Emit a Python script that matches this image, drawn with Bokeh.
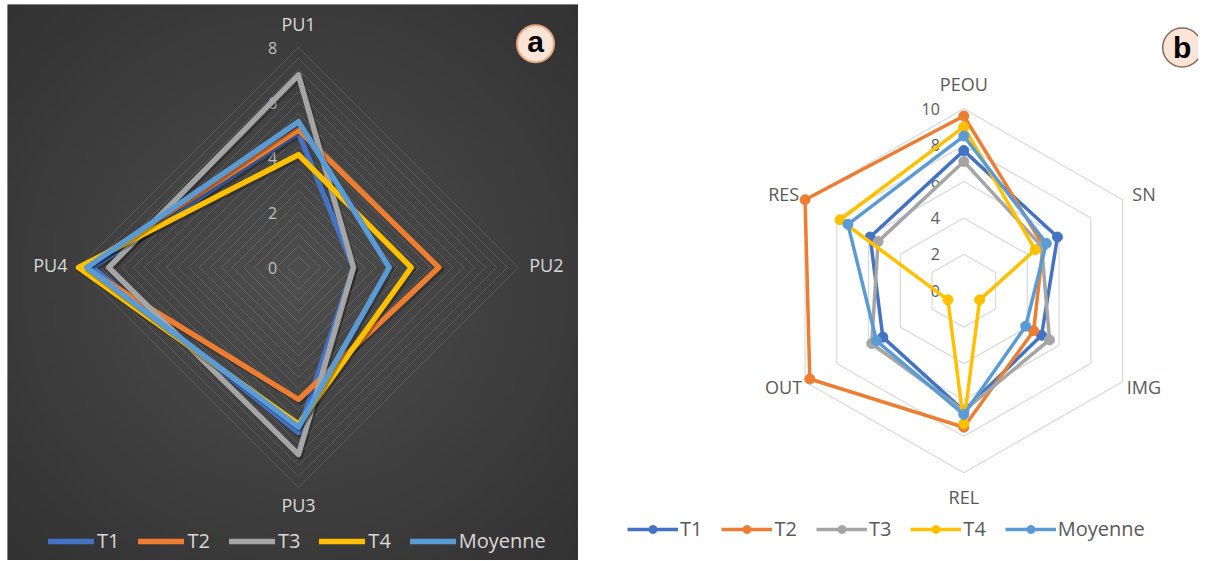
import numpy as np
from bokeh.plotting import figure
from bokeh.layouts import row
from bokeh.models import Legend, LegendItem, Range1d
from bokeh.core.properties import value
from bokeh.embed import file_html
from bokeh.resources import INLINE

# ---------------- data ----------------
series_names = ["T1", "T2", "T3", "T4", "Moyenne"]
colors = ["#4472C4", "#ED7D31", "#A5A5A5", "#FFC000", "#5B9BD5"]

a_axes = ["PU1", "PU2", "PU3", "PU4"]
a_T1 = [4.9, 2.0, 6.0, 7.5]
a_T2 = [5.0, 5.1, 4.8, 7.8]
a_T3 = [7.0, 2.0, 6.8, 6.9]
a_T4 = [4.1, 4.1, 5.7, 8.0]
a_Moy = [5.3, 3.3, 5.8, 7.7]
a_ticks = [0, 2, 4, 6, 8]

b_axes = ["PEOU", "SN", "IMG", "REL", "OUT", "RES"]
b_T1 = [7.7, 5.9, 4.9, 6.6, 5.1, 5.9]
b_T2 = [9.6, 5.0, 4.4, 7.5, 9.7, 10.0]
b_T3 = [7.1, 4.9, 5.4, 6.6, 5.8, 5.4]
b_T4 = [9.0, 4.5, 1.0, 7.3, 1.0, 7.8]
b_Moy = [8.5, 5.2, 3.9, 6.8, 5.5, 7.3]
b_ticks = [0, 2, 4, 6, 8, 10]

FONT = value("Open Sans")


def angles(n):
    # clockwise from top
    return np.deg2rad(90 - 360.0 * np.arange(n) / n)


def polar(vals, ang, close=True):
    v = np.asarray(vals, dtype=float)
    x = v * np.cos(ang)
    y = v * np.sin(ang)
    if close:
        x = np.append(x, x[0])
        y = np.append(y, y[0])
    return x, y


def make_fig(fx0, fy0, fw, fh, bl, bt, br, bb, cx, cy, s, bg, border):
    # frame at page (fx0, fy0) size fw x fh; radar centre at page (cx, cy)
    lx, ty = cx - fx0, cy - fy0
    p = figure(width=fw + bl + br, height=fh + bt + bb, output_backend="svg",
               toolbar_location=None,
               x_axis_location=None, y_axis_location=None,
               x_range=Range1d(-lx / s, (fw - lx) / s),
               y_range=Range1d(-(fh - ty) / s, ty / s),
               min_border_left=bl, min_border_top=bt, min_border_right=br,
               min_border_bottom=bb,
               background_fill_color=bg, border_fill_color=border)
    p.outline_line_color = None
    p.xgrid.visible = False
    p.ygrid.visible = False
    return p


# ================= chart a =================
AFX, AFY, AFW, AFH = 7, 4, 571, 556
ACX, ACY, AS = 298, 267, 27.5
pa = make_fig(AFX, AFY, AFW, AFH, 7, 4, 0, 0, ACX, ACY, AS, "#404040", "white")

# radial gradient background
ny, nx = 120, 124
yy, xx = np.mgrid[0:ny, 0:nx]
d = np.sqrt(((xx - nx / 2) / (nx / 2)) ** 2 + ((yy - ny / 2) / (ny / 2)) ** 2) / np.sqrt(2)
val = (78 - (78 - 50) * d).astype(np.uint8)
img = np.empty((ny, nx), dtype=np.uint32)
view = img.view(dtype=np.uint8).reshape((ny, nx, 4))
view[:, :, 0] = val
view[:, :, 1] = val
view[:, :, 2] = val
view[:, :, 3] = 255
pa.image_rgba(image=[img], x=pa.x_range.start, y=pa.y_range.start,
              dw=AFW / AS, dh=AFH / AS)

ang_a = angles(len(a_axes))
gx, gy = [], []
for r in np.arange(0.4, max(a_ticks) + 0.01, 0.4):
    x, y = polar([r] * len(a_axes), ang_a)
    gx.append(list(x))
    gy.append(list(y))
pa.multi_line(gx, gy, line_color="white", line_alpha=0.13, line_width=1)

# tick labels
pa.text(x=[-26 / AS] * len(a_ticks), y=a_ticks, text=[str(t) for t in a_ticks],
        text_font=FONT, text_font_size="16px", text_color="#bfbfbf",
        text_align="center", text_baseline="middle")

# axis labels
a_lab_r = [8.87, 8.39, 8.65, 8.4]
a_lab_align = ["center", "left", "center", "right"]
for name, rr, al, an in zip(a_axes, a_lab_r, a_lab_align, ang_a):
    pa.text(x=[rr * np.cos(an)], y=[rr * np.sin(an) + (0.08 if al != "center" else 0)],
            text=[name], text_font=FONT, text_font_size="18px",
            text_color="#d9d9d9", text_align=al, text_baseline="middle")

a_series = [a_T1, a_T2, a_T3, a_T4, a_Moy]
a_items = []
for name, vals, c in zip(series_names, a_series, colors):
    x, y = polar(vals, ang_a)
    pa.line(x + 1.5 / AS, y - 2.0 / AS, line_color="black", line_alpha=0.28,
            line_width=6, line_join="round")
    r = pa.line(x, y, line_color=c, line_width=5.5, line_join="round", line_cap="round")
    a_items.append(LegendItem(label=name, renderers=[r]))

leg_a = Legend(items=a_items, orientation="horizontal", location=(41, 6),
               glyph_width=46, glyph_height=20, label_height=20, label_standoff=3,
               spacing=19, padding=0, margin=0,
               label_text_font="Open Sans", label_text_font_size="20px",
               label_text_color="#d9d9d9", background_fill_alpha=0,
               border_line_alpha=0)
pa.add_layout(leg_a)

# badge "a"
bx, by = (535 - ACX) / AS, (ACY - 43.3) / AS
pa.scatter([bx], [by], size=37, marker="circle", fill_color="#fce4d6",
           line_color="#eaa77c", line_width=2)
pa.text(x=[bx], y=[by + 2.5 / AS], text=["a"], text_font=value("Liberation Sans"),
        text_font_style="bold", text_font_size="30px", text_color="black",
        text_align="center", text_baseline="middle")

# ================= chart b =================
BFX, BFY, BFW, BFH = 578, 0, 620, 560
BCX, BCY, BS = 963.3, 288.3, 18.33
pb = make_fig(BFX, BFY, BFW, BFH, 0, 0, 0, 0, BCX, BCY, BS, "white", "white")

ang_b = angles(len(b_axes))
gx, gy = [], []
for r in b_ticks[1:]:
    x, y = polar([r] * len(b_axes), ang_b)
    gx.append(list(x))
    gy.append(list(y))
pb.multi_line(gx, gy, line_color="#d9d9d9", line_width=1.2)

pb.text(x=[-24 / BS] * len(b_ticks), y=b_ticks, text=[str(t) for t in b_ticks],
        text_font=FONT, text_font_size="16px", text_color="#595959",
        text_align="right", text_baseline="middle")

for name, an in zip(b_axes, ang_b):
    c, s_ = np.cos(an), np.sin(an)
    ry = 11.35 if abs(s_) > 0.99 else 10.6
    pb.text(x=[11.35 * c], y=[ry * s_], text=[name], text_font=FONT,
            text_font_size="18px", text_color="#595959",
            text_align="center", text_baseline="middle")

b_series = [b_T1, b_T2, b_T3, b_T4, b_Moy]
b_items = []
for name, vals, c in zip(series_names, b_series, colors):
    x, y = polar(vals, ang_b)
    rl = pb.line(x, y, line_color=c, line_width=3.5, line_join="round")
    xm, ym = polar(vals, ang_b, close=False)
    rm = pb.scatter(xm, ym, size=10, marker="circle", fill_color=c, line_color=c)
    b_items.append(LegendItem(label=name, renderers=[rl, rm]))

leg_b = Legend(items=b_items, orientation="horizontal", location=(49, 18),
               glyph_width=51, glyph_height=20, label_height=20, label_standoff=2,
               spacing=19, padding=0, margin=0,
               label_text_font="Open Sans", label_text_font_size="20px",
               label_text_color="#595959", background_fill_alpha=0,
               border_line_alpha=0)
pb.add_layout(leg_b)

cx2, cy2 = (1181.7 - BCX) / BS, (BCY - 43.3) / BS
pb.scatter([cx2], [cy2], size=39, marker="circle", fill_color="#fce4d6",
           line_color="#8a6a58", line_width=1.5)
pb.text(x=[cx2], y=[cy2], text=["b"], text_font=value("Liberation Sans"),
        text_font_style="bold", text_font_size="30px", text_color="black",
        text_align="center", text_baseline="middle")

layout = row(pa, pb)
open("out.html", "w").write(file_html(layout, INLINE))
